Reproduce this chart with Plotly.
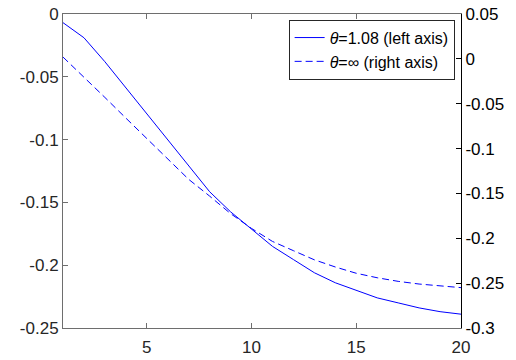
import plotly.graph_objects as go

# Sample index
x = list(range(1, 21))

# theta = 1.08 response (left axis)
theta_108 = [-0.0069, -0.0189, -0.038, -0.0587, -0.0794, -0.100, -0.1213, -0.1415, -0.1575, -0.171,
             -0.185, -0.1955, -0.206, -0.214, -0.220, -0.226, -0.230, -0.234, -0.237, -0.239]

# theta = infinity response (right axis)
theta_inf = [0.002, -0.020, -0.043, -0.066, -0.089, -0.112, -0.1343, -0.153, -0.1725, -0.189,
             -0.2035, -0.2138, -0.224, -0.232, -0.239, -0.244, -0.248, -0.251, -0.253, -0.255]

x_ticks = [5, 10, 15, 20]
left_ticks = [0, -0.05, -0.1, -0.15, -0.2, -0.25]
left_labels = ["0", "-0.05", "-0.1", "-0.15", "-0.2", "-0.25"]
right_ticks = [0.05, 0, -0.05, -0.1, -0.15, -0.2, -0.25, -0.3]
right_labels = ["0.05", "0", "-0.05", "-0.1", "-0.15", "-0.2", "-0.25", "-0.3"]

FONT = "Liberation Sans, Arial, Helvetica, sans-serif"
TEXT = "#262626"
LINE = "#6e6e6e"
TICK_SIZE = 17

fig = go.Figure()
fig.add_trace(go.Scatter(
    x=x, y=theta_108, mode="lines", name="<i>θ</i>=1.08 (left axis)",
    line=dict(color="#0000FF", width=1), yaxis="y"))
fig.add_trace(go.Scatter(
    x=x, y=theta_inf, mode="lines", name="<i>θ</i>=∞ (right axis)",
    line=dict(color="#0000FF", width=1, dash="7px,4px"), yaxis="y2"))

fig.update_layout(
    width=516, height=360,
    margin=dict(l=63, r=55, t=14, b=32),
    paper_bgcolor="white", plot_bgcolor="white",
    font=dict(family=FONT, size=TICK_SIZE, color=TEXT),
    showlegend=True,
    legend=dict(x=0.984, y=0.982, xanchor="right", yanchor="top",
                bgcolor="white", bordercolor=TEXT, borderwidth=1,
                font=dict(family=FONT, size=16, color="black"),
                tracegroupgap=0, itemwidth=30),
    xaxis=dict(range=[1, 20], tickvals=x_ticks, ticks="inside", ticklen=5,
               tickcolor=LINE, showline=True, linecolor=LINE, linewidth=1,
               mirror="ticks", showgrid=False, zeroline=False, automargin=False,
               ticklabelstandoff=4,
               tickfont=dict(family=FONT, size=TICK_SIZE, color=TEXT)),
    yaxis=dict(range=[-0.25, 0], tickvals=left_ticks, ticktext=left_labels,
               ticks="inside", ticklen=5, tickcolor=LINE, showline=True,
               linecolor=LINE, linewidth=1, showgrid=False, zeroline=False,
               automargin=False,
               tickfont=dict(family=FONT, size=TICK_SIZE, color=TEXT)),
    yaxis2=dict(range=[-0.3, 0.05], tickvals=right_ticks, ticktext=right_labels,
                overlaying="y", side="right", ticks="inside", ticklen=5,
                tickcolor="black", showline=True, linecolor="black", linewidth=1,
                showgrid=False, zeroline=False, automargin=False,
                tickfont=dict(family=FONT, size=TICK_SIZE, color="black")),
)

fig.write_html("out.html")
